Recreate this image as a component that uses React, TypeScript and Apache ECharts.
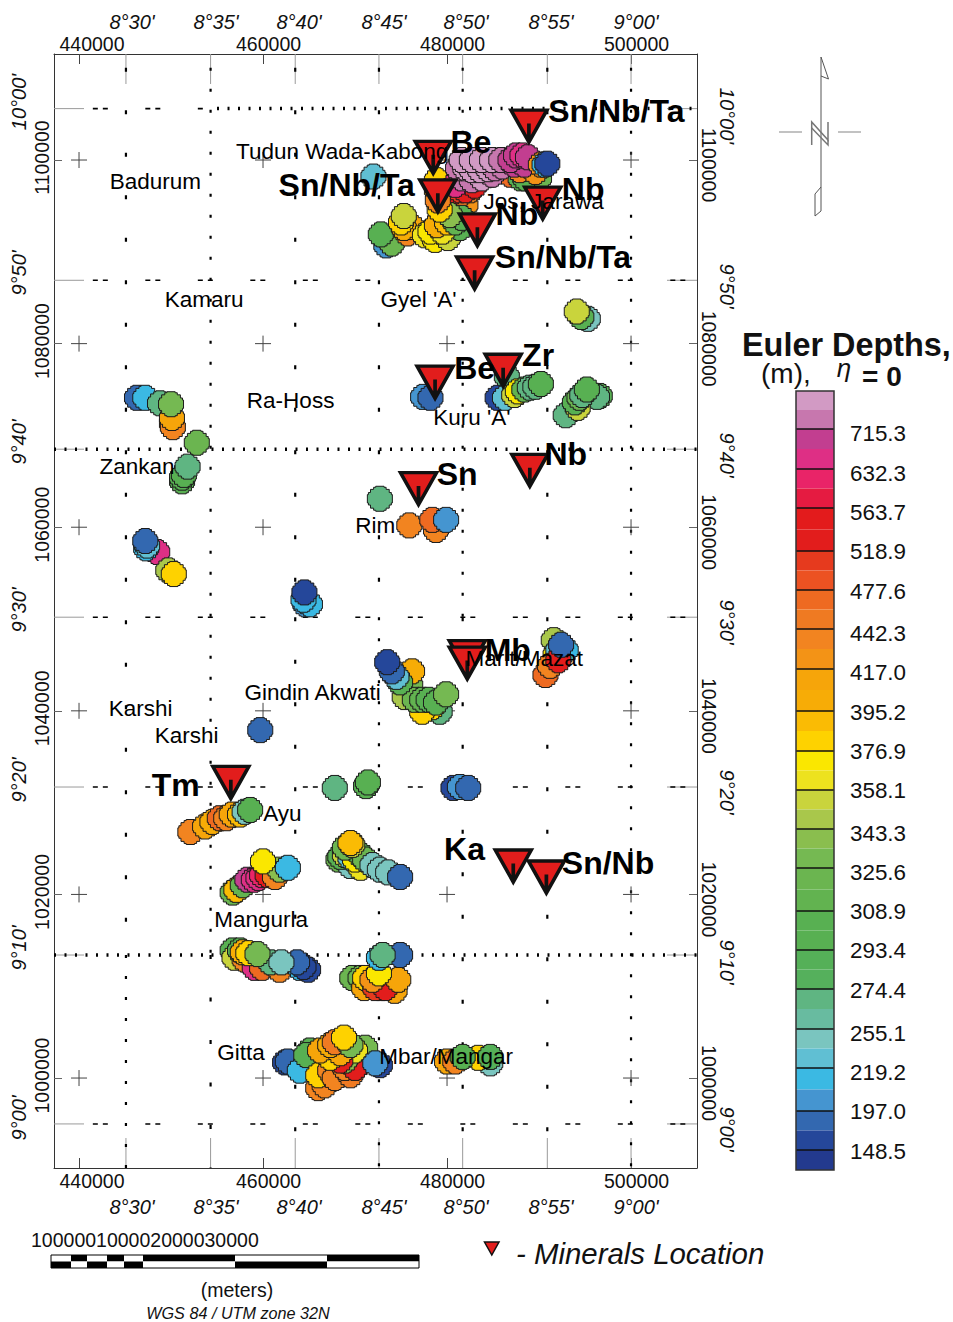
import React, { useEffect, useRef } from "react";
import * as echarts from "echarts";

const FONT = "'Liberation Sans', Arial, sans-serif";

// Map frame in kilometres (UTM zone 32N)
const eastingTicks = [440, 460, 480, 500];
const northingTicks = [1000, 1020, 1040, 1060, 1080, 1100];
const lonLines = [445.1, 454.3, 463.5, 472.6, 481.7, 490.9, 500.0];
const latLines = [1105.6, 1086.9, 1068.5, 1050.2, 1031.7, 1013.4, 995.0];
const lonLabels = ["8°30'", "8°35'", "8°40'", "8°45'", "8°50'", "8°55'", "9°00'"];
const latLabels = ["10°00'", "9°50'", "9°40'", "9°30'", "9°20'", "9°10'", "9°00'"];

// Colour scale
const depthBreaks = [715.3, 632.3, 563.7, 518.9, 477.6, 442.3, 417.0, 395.2, 376.9, 358.1, 343.3, 325.6, 308.9, 293.4, 274.4, 255.1, 219.2, 197.0, 148.5];
const bandColors = [
  "#D29AC4", "#C777AE", "#C23E90", "#DE2F85", "#E92468", "#E51B41", "#E31B1C", "#E21D1C",
  "#E63A1E", "#EC5222", "#EE6A21", "#EF7A22", "#F28420", "#F39316", "#F6A50A", "#F7AC06",
  "#FABB04", "#FED200", "#FAE700", "#EDE21E", "#C9D43C", "#A9C74B", "#8ABE4E", "#75B952",
  "#6BB550", "#62B350", "#58B052", "#58B052", "#55B058", "#55B05C", "#5FB582", "#68BBA0",
  "#7AC5BF", "#60BFD3", "#3BB9E3", "#4595D0", "#3368B0", "#25479A", "#233A8E",
];

// Euler solutions: easting km, northing km, depth m
const eulerJos = [
  [478.9, 1096.7, 410], [478.9, 1097.8, 380], [479.8, 1095.1, 435], [482.0, 1095.1, 420], [480.9, 1095.6, 450],
  [480.5, 1096.7, 600], [480.0, 1095.9, 540], [481.4, 1096.7, 505], [482.5, 1096.7, 440], [482.0, 1096.7, 530],
  [483.0, 1097.2, 550], [484.7, 1098.4, 600], [486.9, 1098.4, 465], [488.0, 1098.0, 300], [490.0, 1098.0, 320],
  [488.5, 1098.0, 300], [487.9, 1098.9, 430], [489.6, 1098.7, 420],
  [477.6, 1091.8, 365], [478.7, 1091.3, 370], [480.1, 1091.5, 355], [481.4, 1092.6, 300],
  [478.2, 1092.2, 370], [479.5, 1092.2, 362], [478.9, 1092.9, 400], [480.0, 1093.2, 390], [480.9, 1093.2, 312],
  [481.6, 1093.7, 303], [480.3, 1094.0, 338], [479.2, 1094.6, 380], [479.0, 1095.6, 435], [482.5, 1098.0, 600],
  [480.9, 1097.3, 650], [481.6, 1098.0, 750], [482.7, 1097.8, 750], [483.8, 1098.0, 850], [484.9, 1098.4, 750],
  [481.2, 1099.1, 750], [482.0, 1099.1, 850], [482.7, 1098.9, 850], [483.6, 1098.9, 850],
  [484.5, 1099.0, 850], [485.2, 1099.1, 750], [486.0, 1099.3, 750],
  [481.6, 1100.0, 850], [482.7, 1100.0, 850], [483.8, 1100.0, 850], [484.9, 1100.0, 850], [485.9, 1100.0, 750],
  [487.3, 1099.5, 690], [488.4, 1099.5, 690],
  [486.9, 1100.0, 690], [487.5, 1100.5, 690],
  [488.2, 1100.5, 650], [488.8, 1100.3, 690], [490.2, 1099.5, 420], [490.6, 1099.5, 213], [490.9, 1099.6, 160],
];
const eulerJosWest = [
  [472.0, 1098.2, 228], [473.4, 1090.7, 202], [474.0, 1090.9, 320], [472.8, 1091.9, 303], [475.7, 1092.0, 435],
  [476.2, 1092.7, 410], [475.3, 1092.6, 400], [475.0, 1093.2, 385], [475.3, 1093.9, 354],
];
const eulerCentral = [
  [495.3, 1082.7, 243], [494.6, 1082.9, 297], [494.1, 1083.5, 354],
  [477.4, 1074.2, 202], [478.2, 1074.1, 180],
  [486.5, 1076.4, 268], [485.5, 1074.1, 160], [486.3, 1074.1, 228], [487.3, 1074.4, 354], [487.7, 1074.8, 370],
  [488.4, 1075.0, 312], [489.0, 1075.2, 268], [489.6, 1075.3, 268], [490.2, 1075.6, 297],
  [496.6, 1074.3, 297], [496.3, 1074.2, 268], [492.9, 1072.2, 268], [494.2, 1073.0, 354], [493.9, 1073.6, 300],
  [494.4, 1074.1, 320], [494.7, 1074.4, 268], [495.2, 1075.0, 297],
  [472.7, 1063.1, 268], [475.9, 1060.2, 430], [478.8, 1059.7, 430], [478.4, 1060.8, 465], [479.9, 1060.8, 202],
];
const eulerWest = [
  [446.3, 1074.1, 180], [447.2, 1074.1, 213], [448.8, 1073.5, 268], [450.1, 1071.3, 465], [450.2, 1070.9, 435],
  [450.1, 1071.9, 410], [450.0, 1073.4, 330], [452.8, 1069.2, 320], [451.2, 1065.0, 297], [451.2, 1065.4, 300],
  [451.4, 1065.7, 303], [451.8, 1066.6, 268],
  [448.5, 1057.3, 650], [447.3, 1057.7, 213], [447.4, 1058.0, 228], [447.2, 1058.5, 180], [449.7, 1055.3, 347],
  [450.3, 1054.9, 378],
  [464.6, 1051.6, 202], [465.1, 1051.6, 213], [464.4, 1052.1, 213], [464.5, 1052.9, 160],
];
const eulerMaraba = [
  [479.2, 1039.9, 268], [478.4, 1040.4, 380], [477.3, 1039.9, 380], [476.0, 1042.8, 330], [475.4, 1041.5, 350],
  [476.2, 1044.3, 400], [476.5, 1041.2, 320],
  [477.3, 1041.2, 312], [478.0, 1041.2, 300], [478.8, 1040.9, 303], [479.9, 1041.8, 330], [474.9, 1043.1, 297],
  [474.5, 1043.7, 228], [474.0, 1044.3, 180], [473.5, 1045.3, 160],
  [491.6, 1047.7, 347], [491.8, 1046.1, 370], [492.1, 1046.6, 228], [492.9, 1046.6, 213], [490.7, 1043.9, 465],
  [491.2, 1044.9, 435], [492.1, 1045.5, 530], [492.4, 1047.2, 180],
  [480.7, 1031.6, 160], [481.4, 1031.7, 202], [482.3, 1031.6, 180],
  [467.8, 1031.6, 268], [471.2, 1031.8, 303], [471.4, 1032.2, 297], [459.7, 1037.9, 180],
];
const eulerAyu = [
  [452.1, 1026.8, 435], [453.7, 1027.4, 415], [454.5, 1027.9, 400], [455.3, 1028.3, 465], [456.0, 1028.3, 440],
  [456.6, 1028.7, 410], [457.5, 1028.7, 390], [458.0, 1029.0, 243], [458.6, 1029.2, 297],
  [456.7, 1020.2, 320], [457.1, 1020.5, 390], [457.8, 1021.0, 312], [458.3, 1021.6, 700], [459.0, 1021.6, 650],
  [459.5, 1021.8, 650], [459.9, 1022.1, 620], [460.5, 1022.1, 545], [461.3, 1021.9, 440], [461.8, 1022.7, 340],
  [462.7, 1022.9, 213], [460.0, 1023.6, 375],
  [468.2, 1023.8, 320], [469.5, 1023.1, 243], [470.6, 1022.9, 360],
  [468.4, 1024.1, 303], [468.9, 1024.3, 354], [469.5, 1024.0, 228], [470.0, 1023.8, 370], [470.6, 1024.3, 303],
  [471.1, 1023.8, 320], [471.9, 1023.2, 243], [472.7, 1022.7, 243], [473.6, 1022.4, 243], [474.9, 1021.9, 180],
  [468.9, 1025.1, 320], [469.7, 1025.4, 354], [469.5, 1025.6, 390],
];
const eulerSouth = [
  [456.7, 1013.9, 297], [456.9, 1013.1, 354], [458.0, 1012.9, 435], [459.1, 1012.0, 650], [459.9, 1012.0, 465],
  [457.5, 1013.9, 300], [457.8, 1013.7, 400], [458.4, 1013.6, 380], [461.8, 1011.8, 440], [464.0, 1012.0, 213],
  [464.9, 1011.8, 160], [464.4, 1012.1, 160], [463.7, 1012.6, 180], [460.8, 1012.6, 268], [459.4, 1013.5, 330],
  [462.0, 1012.6, 243],
  [469.7, 1010.9, 320], [470.6, 1010.9, 320], [471.0, 1009.8, 410], [474.3, 1009.5, 410], [472.8, 1009.8, 420],
  [471.1, 1010.9, 385], [472.2, 1009.8, 500], [473.3, 1009.8, 530], [474.7, 1010.7, 410],
  [471.9, 1010.7, 420], [472.6, 1011.4, 370], [472.6, 1013.1, 213], [474.9, 1013.4, 180], [473.0, 1013.4, 268],
  [462.4, 1001.7, 160], [462.7, 1001.8, 180], [464.0, 1000.8, 213], [465.1, 1003.0, 300], [464.7, 1002.5, 300],
  [466.0, 998.9, 430], [466.7, 999.2, 435], [466.0, 1000.3, 378], [467.3, 1000.8, 435],
  [467.8, 1000.0, 440], [469.5, 1000.3, 450], [470.3, 1001.4, 460], [468.9, 1001.1, 440], [470.0, 1001.1, 530],
  [468.9, 1001.9, 335], [471.1, 1003.3, 330], [470.0, 1003.0, 360], [468.4, 1001.9, 530],
  [467.3, 1002.2, 380], [466.2, 1003.0, 410], [468.4, 1002.7, 410], [467.3, 1003.6, 400], [467.8, 1003.9, 450],
  [469.5, 1003.6, 330], [468.8, 1004.4, 380],
  [472.7, 1001.4, 170], [472.2, 1001.6, 202],
  [480.0, 1001.8, 415], [480.9, 1001.8, 430], [484.7, 1001.6, 243], [483.4, 1002.2, 378], [481.7, 1002.3, 303],
  [484.7, 1002.3, 290],
];

const minerals = [
  [488.9, 1103.7], [478.5, 1100.3], [479.0, 1096.1], [490.4, 1095.3], [483.3, 1092.4], [483.0, 1087.7],
  [478.7, 1075.8], [486.1, 1077.1], [489.0, 1066.2], [476.9, 1064.2], [482.2, 1045.9], [482.2, 1045.2],
  [456.5, 1032.2], [487.2, 1023.1], [490.8, 1021.9],
];
const mineralNames = [
  ["Sn/Nb/Ta", 498.4, 1105.3], ["Be", 482.6, 1102.0], ["Sn/Nb/Ta", 469.1, 1097.3], ["Nb", 494.8, 1096.8],
  ["Nb", 487.6, 1094.1], ["Sn/Nb/Ta", 492.6, 1089.4], ["Be", 483.0, 1077.3], ["Zr", 489.9, 1078.8],
  ["Nb", 492.9, 1068.0], ["Sn", 481.1, 1065.8], ["Mb", 486.6, 1046.6], ["Tm", 450.5, 1031.9],
  ["Ka", 481.9, 1024.9], ["Sn/Nb", 497.5, 1023.4],
];
const placeNames = [
  ["Badurum", 448.3, 1097.7], ["Tudun Wada-Kabong", 468.6, 1100.9], ["Kamaru", 453.6, 1084.8],
  ["Gyel 'A'", 476.9, 1084.8], ["Ra-Hoss", 463.0, 1073.8], ["Kuru 'A'", 482.7, 1071.9], ["Zankan", 446.3, 1066.6],
  ["Rim", 472.2, 1060.2], ["Jos, Jarawa", 490.5, 1095.5], ["Gindin Akwati", 465.4, 1042.0],
  ["Marit/Mazat", 488.4, 1045.7], ["Karshi", 446.7, 1040.3], ["Karshi", 451.7, 1037.3], ["Ayu", 462.1, 1028.8],
  ["Mangurla", 459.8, 1017.3], ["Gitta", 457.6, 1002.8], ["Mbar/Mangar", 479.9, 1002.3],
];

const X_MIN = 437.28, X_MAX = 507.17, Y_MIN = 990.2, Y_MAX = 1111.55;

function colorFor(d: number) {
  if (d > depthBreaks[0]) return d > 800 ? bandColors[0] : bandColors[1];
  if (d <= depthBreaks[depthBreaks.length - 1]) return bandColors[38];
  for (let i = 0; i < depthBreaks.length - 1; i++) {
    const hi = depthBreaks[i], lo = depthBreaks[i + 1];
    if (d <= hi && d > lo) return d > (hi + lo) / 2 ? bandColors[2 + 2 * i] : bandColors[3 + 2 * i];
  }
  return bandColors[38];
}

const BLOB =
  "path://M8 0H16V1H18V3H21V6H23V8H24V16H23V18H21V21H18V23H16V24H8V23H6V21H3V18H1V16H0V8H1V6H3V3H6V1H8Z";
const TRI = "path://M0 0H34L17 31Z M17 13V29";
const CROSS = "path://M0 8H16M8 0V16M0 8Z";

function seg(a: number[], b: number[], color: string, width: number, dash?: any) {
  return {
    type: "line", data: [a, b], symbol: "none", silent: true, z: 1,
    lineStyle: { color, width, type: dash || "solid", cap: "butt" },
  };
}

function graticule() {
  const out: any[] = [];
  const grey = "#9a9a9a";
  const pair = [5, 5, 5, 37.5];
  const dots = [2, 8.5];
  const kX = 0.1087, kY = 0.1089;
  lonLines.forEach((x) => {
    out.push(seg([x, Y_MAX], [x, Y_MAX - 30 * kY], grey, 1));
    out.push(seg([x, Y_MIN], [x, Y_MIN + 30 * kY], grey, 1));
  });
  latLines.forEach((y, i) => {
    out.push(seg([X_MIN, y], [X_MIN + 30 * kX, y], grey, 1));
    out.push(seg([X_MAX, y], [X_MAX - 30 * kX, y], grey, 1));
    if (i === 2 || i === 5) out.push(seg([X_MIN, y], [X_MAX, y], "#000", 3.5, dots));
    else if (i === 0) {
      out.push(seg([441.5, y], [453.6, y], "#000", 1.6, pair));
      out.push(seg([455.0, y], [X_MAX, y], "#000", 3.5, dots));
    } else out.push(seg([441.5, y], [X_MAX, y], "#000", 1.6, pair));
  });
  const sparse = [4, 38.5], dense = [3, 18];
  const split: [number, number[], number[], number][] = [
    [0, sparse, dense, 1013.4], [1, dense, sparse, 1013.4], [2, sparse, sparse, 1050.2],
    [3, sparse, dense, 1050.2], [4, dense, sparse, 1050.2], [5, sparse, sparse, 1050.2], [6, dense, dense, 1050.2],
  ];
  split.forEach(([i, above, below, at]) => {
    out.push(seg([lonLines[i], Y_MAX - 1.5], [lonLines[i], at], "#000", 2.2, above));
    out.push(seg([lonLines[i], at], [lonLines[i], Y_MIN], "#000", 2.2, below));
  });
  return out;
}

function txt(text: string, x: number, y: number, size: number, o: any = {}) {
  return {
    type: "text", x, y, z: 50, rotation: o.rotation || 0, silent: true,
    style: {
      text, fill: "#111", font: `${o.italic ? "italic " : ""}${o.bold ? "bold " : ""}${size}px ${FONT}`,
      align: o.align || "center", verticalAlign: "middle",
    },
  };
}
function ln(pts: number[][], stroke: string, w = 1) {
  return { type: "polyline", z: 50, silent: true, shape: { points: pts }, style: { stroke, lineWidth: w, fill: null } };
}

function graphics() {
  const g: any[] = [];
  const lonX = [132, 216, 299, 384, 466, 551, 636];
  lonLabels.forEach((t, i) => {
    g.push(txt(t, lonX[i], 22, 20, { italic: true }));
    g.push(txt(t, lonX[i], 1207, 20, { italic: true }));
  });
  const latL = [102, 273, 442, 610, 780, 948, 1118];
  const latR = [116, 286, 455, 622, 792, 962, 1129];
  latLabels.forEach((t, i) => {
    g.push(txt(t, 19, latL[i], 20, { italic: true, rotation: Math.PI / 2 }));
    g.push(txt(t, 727, latR[i], 20, { italic: true, rotation: -Math.PI / 2 }));
  });

  // North arrow
  g.push(ln([[821, 57], [821, 187], [815, 194], [815, 216], [821, 211], [821, 187]], "#555"));
  g.push(ln([[821, 57], [828.5, 79], [821, 76]], "#555"));
  g.push(ln([[811.7, 145], [811.7, 122], [828, 140], [828, 122]], "#777", 1.5));
  g.push(ln([[811.7, 128], [828, 145], [828, 140]], "#777", 1.5));
  g.push(ln([[779, 132], [802, 132]], "#999", 1.2));
  g.push(ln([[838, 132], [861, 132]], "#999", 1.2));

  // Colour legend
  g.push(txt("Euler Depths,", 742, 345, 32.4, { bold: true, align: "left" }));
  g.push(txt("(m),", 761, 373, 28, { align: "left" }));
  g.push(txt("η", 844, 368, 26, { italic: true }));
  g.push(txt("= 0", 862, 376, 28, { bold: true, align: "left" }));
  const edges = [391, 429, 469, 508, 551, 590, 629, 669, 711, 751, 790, 829, 868, 911, 950, 989, 1029, 1068, 1111, 1150, 1170];
  const labelY = [433, 473, 512, 551, 591, 633, 672, 712, 751, 790, 833, 872, 911, 950, 990, 1033, 1072, 1111, 1151];
  const LX = 796, LW = 38;
  let c = 0;
  for (let i = 0; i < edges.length - 1; i++) {
    const top = edges[i], bot = edges[i + 1];
    if (i === edges.length - 2) {
      g.push({ type: "rect", z: 49, silent: true, shape: { x: LX, y: top, width: LW, height: bot - top }, style: { fill: bandColors[c++] } });
    } else {
      const mid = (top + bot) / 2;
      g.push({ type: "rect", z: 49, silent: true, shape: { x: LX, y: top, width: LW, height: mid - top }, style: { fill: bandColors[c++] } });
      g.push({ type: "rect", z: 49, silent: true, shape: { x: LX, y: mid, width: LW, height: bot - mid }, style: { fill: bandColors[c++] } });
    }
    if (i > 0) g.push(ln([[LX, top], [LX + LW, top]], "#111", 1.6));
  }
  g.push({ type: "rect", z: 50, silent: true, shape: { x: LX, y: 391, width: LW, height: 779 }, style: { fill: null, stroke: "#333", lineWidth: 1.5 } });
  depthBreaks.forEach((d, i) => g.push(txt(d.toFixed(1), 850, labelY[i], 22.4, { align: "left" })));

  // Scale bar
  const sx = [51, 71, 87, 107, 124, 143, 235, 327, 419];
  for (let i = 0; i < sx.length - 1; i++) {
    const w = sx[i + 1] - sx[i];
    const odd = i % 2 === 1;
    g.push({ type: "rect", z: 49, silent: true, shape: { x: sx[i], y: 1255, width: w, height: 6.5 }, style: { fill: odd ? "#000" : "#fff" } });
    g.push({ type: "rect", z: 49, silent: true, shape: { x: sx[i], y: 1261.5, width: w, height: 6.5 }, style: { fill: odd ? "#fff" : "#000" } });
  }
  g.push({ type: "rect", z: 50, silent: true, shape: { x: 51, y: 1255, width: 368, height: 13 }, style: { fill: null, stroke: "#000", lineWidth: 1 } });
  g.push(txt("100000100002000030000", 31, 1240, 19.5, { align: "left" }));
  g.push(txt("(meters)", 237, 1290, 19.5));
  g.push(txt("WGS 84 / UTM zone 32N", 238, 1313, 16.2, { italic: true }));

  // Minerals key
  g.push({ type: "polygon", z: 50, silent: true, shape: { points: [[484.5, 1242], [499, 1242], [491.8, 1255]] }, style: { fill: "#E21D1C", stroke: "#111", lineWidth: 1.5 } });
  g.push(txt("- Minerals Location", 516, 1253, 29.4, { italic: true, align: "left" }));
  return g;
}

function nameSeries(rows: any[], size: number, bold: boolean) {
  return {
    type: "scatter", z: 8, silent: true, symbol: "circle", symbolSize: 1,
    itemStyle: { color: "rgba(0,0,0,0)", opacity: 1 },
    data: rows.map((r) => [r[1], r[2], r[0]]),
    label: {
      show: true, position: "inside", color: "#000", fontFamily: FONT, fontSize: size, opacity: 1,
      fontWeight: bold ? "bold" : "normal", align: "center", verticalAlign: "middle",
      formatter: (p: any) => p.value[2],
    },
  };
}

export default function App() {
  const ref = useRef<HTMLDivElement>(null);
  useEffect(() => {
    const chart = echarts.init(ref.current!, undefined, { renderer: "svg" });
    const crosses: number[][] = [];
    eastingTicks.forEach((x) => northingTicks.forEach((y) => crosses.push([x, y])));
    const euler = [
      ...eulerJosWest, ...eulerJos, ...eulerCentral, ...eulerWest, ...eulerMaraba, ...eulerAyu, ...eulerSouth,
    ];
    const lbl = (v: number) => (v === 440 ? `{a|${v * 1000}}` : `{b|${v * 1000}}`);
    const rich = {
      a: { fontFamily: FONT, fontSize: 19.5, color: "#111", padding: [0, 0, 0, 26] },
      b: { fontFamily: FONT, fontSize: 19.5, color: "#111", padding: [0, 0, 0, 11] },
    };
    const xAxis = (position: string, margin: number) => ({
      type: "value", position, min: X_MIN, max: X_MAX, splitLine: { show: false },
      axisLine: { show: true, lineStyle: { color: "#333", width: 1 } },
      axisTick: { show: true, inside: true, length: 10, customValues: eastingTicks, lineStyle: { color: "#444" } },
      axisLabel: { show: true, customValues: eastingTicks, margin, formatter: lbl, rich },
    });
    const yAxis = (position: string, rotate: number, margin: number, pad: number) => ({
      type: "value", position, min: Y_MIN, max: Y_MAX, splitLine: { show: false },
      axisLine: { show: true, lineStyle: { color: "#333", width: 1 } },
      axisTick: { show: true, inside: true, length: 8, customValues: northingTicks, lineStyle: { color: "#666" } },
      axisLabel: {
        show: true, customValues: northingTicks, margin, rotate, fontFamily: FONT, fontSize: 19.5, color: "#111",
        padding: [0, 0, 0, pad], formatter: (v: number) => String(v * 1000),
      },
    });
    chart.setOption({
      animation: false,
      grid: { left: 54, top: 54, width: 643, height: 1114, containLabel: false },
      xAxis: [xAxis("bottom", 3), xAxis("top", 0)],
      yAxis: [yAxis("left", 90, 2, 5), yAxis("right", -90, 2, 10)],
      series: [
        ...graticule(),
        {
          type: "scatter", z: 2, silent: true, symbol: CROSS, symbolSize: 16, data: crosses,
          itemStyle: { color: "none", borderColor: "#444", borderWidth: 1, opacity: 1 },
        },
        {
          type: "scatter", z: 3, silent: true, symbol: BLOB, symbolSize: 25, data: euler,
          itemStyle: { color: (p: any) => colorFor(p.value[2]), borderColor: "#1c1c1c", borderWidth: 1, opacity: 1 },
        },
        {
          type: "scatter", z: 4, silent: true, symbol: TRI, symbolSize: [36, 32], data: minerals,
          itemStyle: { color: "#E21D1C", borderColor: "#111", borderWidth: 3.5, opacity: 1 },
        },
        nameSeries(placeNames, 22.5, false),
        nameSeries(mineralNames, 32, true),
      ],
      graphic: { elements: graphics() },
    });
    return () => chart.dispose();
  }, []);
  return <div ref={ref} style={{ position: "absolute", left: 0, top: 0, width: 953, height: 1322, background: "#fff" }} />;
}
